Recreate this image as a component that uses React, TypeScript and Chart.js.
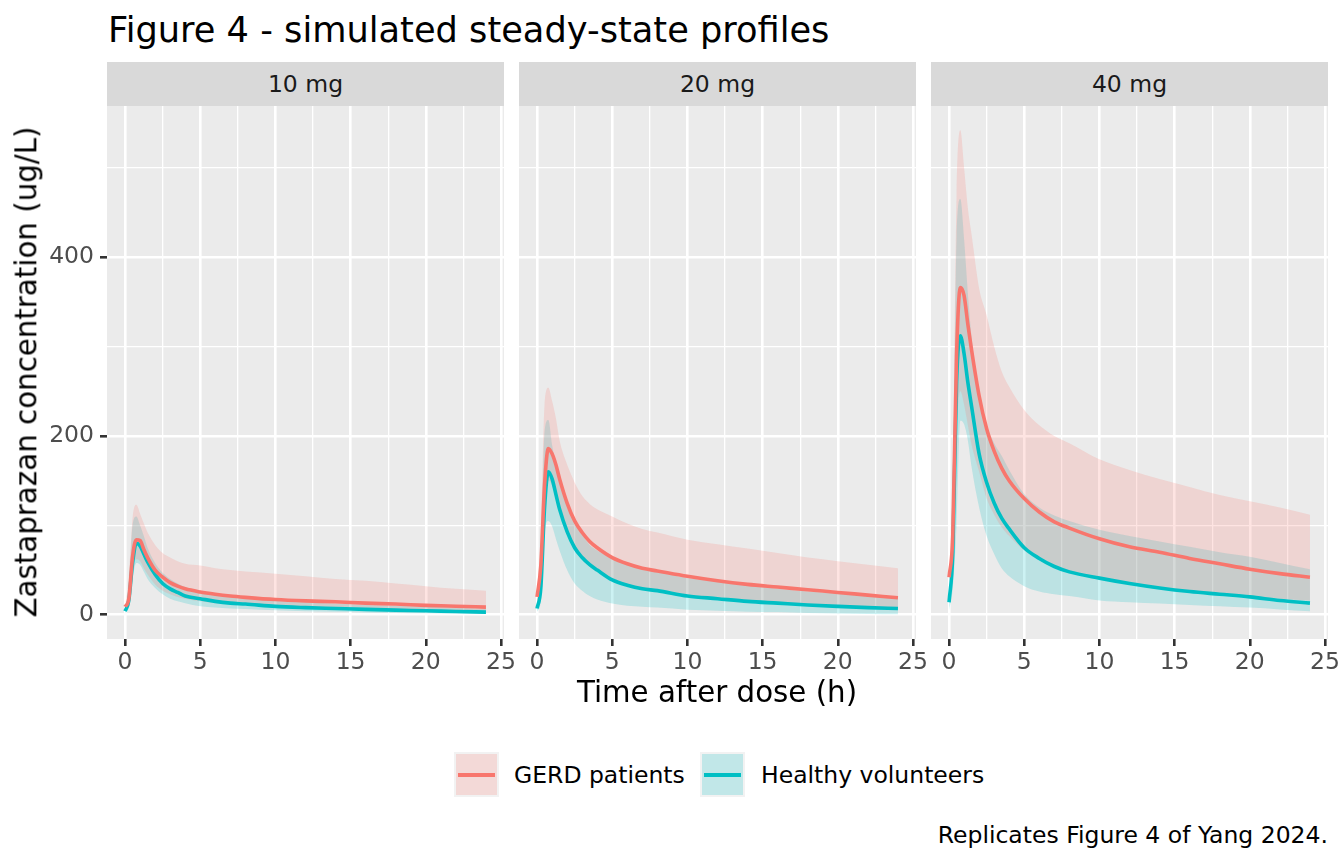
import React, { useEffect, useRef } from "react"
import { Chart, registerables } from "chart.js"

Chart.register(...registerables)

// time grid (h)
const times = [0, 0.25, 0.5, 0.75, 1, 1.25, 1.5, 2, 2.5, 3, 3.5, 4, 5, 6, 7, 8, 10, 12, 14, 16, 18, 20, 22, 24]

const doses = ["10 mg", "20 mg", "40 mg"]
const groups = ["GERD patients", "Healthy volunteers"]

// 10 mg
const gerd10Median = [9, 18, 65, 84, 83, 73, 64, 50, 42, 36, 32, 29, 25.5, 23, 21, 19.5, 17, 15.5, 14.5, 13, 12, 10.5, 9.5, 8.6]
const gerd10Low = [4, 10, 50, 62, 60, 52, 45, 34, 27, 23, 20, 18, 15, 13, 12, 11, 9, 8, 7, 6.5, 6, 5, 4.5, 4]
const gerd10High = [9, 40, 108, 123, 113, 102, 92, 78, 69, 64, 60, 57, 55, 52, 50, 48.5, 46, 43, 40, 38, 35, 32, 29, 27]
const hv10Median = [4, 16, 58, 80, 77, 68, 59, 45, 35, 29, 25, 21, 18, 15, 13, 12, 9.4, 8, 7, 6, 5.2, 4.5, 3.7, 3]
const hv10Low = [2, 8, 40, 58, 56, 48, 40, 30, 23, 18, 15, 13, 9.4, 8, 7, 6.5, 5, 4, 3.3, 2.6, 2, 1.6, 1.3, 1]
const hv10High = [4, 30, 100, 110, 100, 88, 75, 58, 47, 40, 35, 31, 27, 23, 20, 19, 16, 14, 12.5, 11, 10, 9, 7.8, 6.7]

// 20 mg
const gerd20Median = [20, 55, 145, 186, 180, 168, 152, 125, 105, 92, 82, 75, 64, 57, 52, 49, 43, 38, 34, 31, 28, 25, 22, 19]
const gerd20Low = [7, 30, 110, 150, 145, 130, 115, 92, 74, 62, 54, 48, 39, 33, 30, 27, 22, 19, 16, 14, 12, 10, 9, 7.5]
const gerd20High = [20, 90, 235, 254, 239, 220, 195, 168, 148, 133, 124, 118, 110, 102, 96, 92, 84, 79, 74, 69, 64, 60, 56, 52]
const hv20Median = [7, 30, 120, 160, 152, 135, 118, 93, 75, 64, 56, 50, 39, 33, 29, 27, 21, 18, 15, 13, 11, 9.4, 8, 7]
const hv20Low = [3, 15, 90, 105, 99, 85, 72, 50, 35, 27, 21, 17, 12.5, 10, 9, 8, 5.7, 4.5, 3.5, 3, 2, 1.5, 1, 0.5]
const hv20High = [7, 60, 205, 218, 190, 170, 152, 125, 105, 90, 78, 72, 63, 56, 52, 48, 41, 37, 33, 29, 26, 24, 21, 19]

// 40 mg
const gerd40Median = [42, 90, 290, 366, 357, 325, 296, 245, 208, 183, 164, 150, 130, 115, 104, 97, 85, 76, 70, 63, 57, 51, 46, 42]
const gerd40Low = [42, 60, 200, 250, 235, 212, 190, 160, 130, 112, 98, 88, 72, 62, 55, 49, 41, 36, 31, 27, 24, 21, 18, 16]
const gerd40High = [42, 150, 470, 542, 500, 455, 425, 365, 335, 300, 272, 255, 229, 212, 200, 192, 174, 162, 152, 143, 134, 127, 120, 112]
const hv40Median = [14, 70, 260, 312, 292, 260, 233, 180, 148, 125, 108, 96, 75, 63, 54, 48, 41, 35, 30, 26, 23, 20, 16, 13]
const hv40Low = [5, 30, 100, 217, 213, 195, 165, 120, 88, 68, 52, 43, 32, 26, 23, 21, 16, 14, 12.5, 11, 9.5, 8, 6, 4]
const hv40High = [14, 120, 422, 465, 420, 360, 310, 245, 212, 192, 178, 162, 135, 120, 111, 105, 95, 88, 82, 76, 70, 65, 58, 51]

const panels = [
  { gerd: [gerd10Low, gerd10Median, gerd10High], hv: [hv10Low, hv10Median, hv10High] },
  { gerd: [gerd20Low, gerd20Median, gerd20High], hv: [hv20Low, hv20Median, hv20High] },
  { gerd: [gerd40Low, gerd40Median, gerd40High], hv: [hv40Low, hv40Median, hv40High] },
]

const xMajor = [0, 5, 10, 15, 20, 25]
const xMinor = [2.5, 7.5, 12.5, 17.5, 22.5]
const yMajor = [0, 200, 400]
const yMinor = [100, 300, 500]

const RED = "#F8766D"
const TEAL = "#00BFC4"
const RED_FILL = "rgba(248, 118, 109, 0.2)"
const TEAL_FILL = "rgba(0, 191, 196, 0.2)"
const FONT = "'DejaVu Sans', sans-serif"

const PANEL_LEFT = [107, 519, 931]
const PANEL_W = 397
const PANEL_TOP = 106
const PANEL_H = 533
const Y_AXIS_W = 107
const X_AXIS_H = 50
const RIGHT_PAD = 20
const TOP_PAD = 24

const bgPlugin = {
  id: "panelBg",
  beforeDraw(chart: any) {
    const { ctx, chartArea } = chart
    ctx.save()
    ctx.fillStyle = "#EBEBEB"
    ctx.fillRect(chartArea.left, chartArea.top, chartArea.right - chartArea.left, chartArea.bottom - chartArea.top)
    ctx.restore()
  },
}

const pts = (arr: number[]) => times.map((t, i) => ({ x: t, y: arr[i] }))

function Panel({ index }: { index: number }) {
  const chartRef = useRef<HTMLCanvasElement>(null)
  const chartInstance = useRef<Chart | null>(null)
  const first = index === 0

  useEffect(() => {
    if (!chartRef.current) return
    if (chartInstance.current) chartInstance.current.destroy()
    const ctx = chartRef.current.getContext("2d")
    if (!ctx) return

    const p = panels[index]
    const band = (arr: number[], fill: any, color: string) => ({
      data: pts(arr),
      borderWidth: 0,
      borderColor: "transparent",
      backgroundColor: color,
      pointRadius: 0,
      fill,
      cubicInterpolationMode: "monotone" as const,
    })
    const line = (arr: number[], color: string) => ({
      data: pts(arr),
      borderWidth: 3.6,
      borderColor: color,
      pointRadius: 0,
      fill: false,
      cubicInterpolationMode: "monotone" as const,
    })

    const isMajorX = (v: number) => xMajor.includes(v)
    const isMajorY = (v: number) => yMajor.includes(v)

    chartInstance.current = new Chart(ctx, {
      type: "line",
      data: {
        datasets: [
          band(p.gerd[0], false, RED_FILL),
          band(p.gerd[2], "-1", RED_FILL),
          band(p.hv[0], false, TEAL_FILL),
          band(p.hv[2], "-1", TEAL_FILL),
          line(p.gerd[1], RED),
          line(p.hv[1], TEAL),
        ],
      },
      options: {
        animation: false,
        responsive: false,
        maintainAspectRatio: false,
        layout: { padding: { left: 0, right: RIGHT_PAD, top: TOP_PAD, bottom: 0 } },
        plugins: {
          legend: { display: false },
          tooltip: { enabled: false },
          filler: { drawTime: "beforeDatasetsDraw" },
        },
        scales: {
          x: {
            type: "linear",
            min: -1.2,
            max: 25.2,
            afterBuildTicks: (scale: any) => {
              scale.ticks = [...xMajor, ...xMinor].sort((a, b) => a - b).map((v) => ({ value: v }))
            },
            afterFit: (scale: any) => {
              scale.height = X_AXIS_H
            },
            border: { display: false },
            grid: {
              color: "#FFFFFF",
              lineWidth: (c: any) => (isMajorX(c.tick?.value) ? 2.6 : 1.3),
              tickColor: (c: any) => (isMajorX(c.tick?.value) ? "#333333" : "rgba(0,0,0,0)"),
              tickWidth: 2.6,
              tickLength: 7,
            },
            ticks: {
              autoSkip: false,
              maxRotation: 0,
              padding: 3,
              color: "#4D4D4D",
              font: { family: FONT, size: 23.5 },
              callback: (v: any) => (isMajorX(Number(v)) ? String(v) : ""),
            },
          },
          y: {
            type: "linear",
            min: -27.1,
            max: 569.1,
            afterBuildTicks: (scale: any) => {
              scale.ticks = [...yMajor, ...yMinor].sort((a, b) => a - b).map((v) => ({ value: v }))
            },
            afterFit: (scale: any) => {
              scale.width = first ? Y_AXIS_W : 0
            },
            border: { display: false },
            grid: {
              color: "#FFFFFF",
              lineWidth: (c: any) => (isMajorY(c.tick?.value) ? 2.6 : 1.3),
              tickColor: (c: any) => (first && isMajorY(c.tick?.value) ? "#333333" : "rgba(0,0,0,0)"),
              tickWidth: 2.6,
              tickLength: first ? 7 : 0,
              drawTicks: first,
            },
            ticks: {
              display: first,
              autoSkip: false,
              padding: 6,
              color: "#4D4D4D",
              font: { family: FONT, size: 23.5 },
              callback: (v: any) => (isMajorY(Number(v)) ? String(v) : ""),
            },
          },
        },
      },
      plugins: [bgPlugin],
    })

    return () => {
      if (chartInstance.current) {
        chartInstance.current.destroy()
        chartInstance.current = null
      }
    }
  }, [index])

  const left = first ? 0 : PANEL_LEFT[index]
  const width = (first ? Y_AXIS_W : 0) + PANEL_W + RIGHT_PAD
  const height = TOP_PAD + PANEL_H + X_AXIS_H

  return (
    <>
      <div
        style={{
          position: "absolute",
          left: PANEL_LEFT[index],
          top: 62,
          width: PANEL_W,
          height: PANEL_TOP - 62,
          background: "#D9D9D9",
          color: "#1A1A1A",
          fontFamily: FONT,
          fontSize: 23.5,
          lineHeight: `${PANEL_TOP - 62}px`,
          textAlign: "center",
        }}
      >
        {doses[index]}
      </div>
      <div style={{ position: "absolute", left, top: PANEL_TOP - TOP_PAD, width, height }}>
        <canvas ref={chartRef} width={width} height={height} style={{ display: "block" }} />
      </div>
    </>
  )
}

function LegendKey({ left, fill, color }: { left: number; fill: string; color: string }) {
  return (
    <div style={{ position: "absolute", left, top: 752, width: 45, height: 45, background: "#F2F2F2" }}>
      <div style={{ position: "absolute", left: 2, top: 2, right: 2, bottom: 2, background: fill }} />
      <div style={{ position: "absolute", left: 4, right: 4, top: 21, height: 4, background: color }} />
    </div>
  )
}

const textStyle = (size: number, top: number): React.CSSProperties => ({
  position: "absolute",
  top,
  fontFamily: FONT,
  fontSize: size,
  lineHeight: `${size}px`,
  whiteSpace: "nowrap",
  color: "#000000",
})

export default function App() {
  return (
    <div style={{ position: "fixed", left: 0, top: 0, width: 1344, height: 864, background: "#FFFFFF", overflow: "hidden" }}>
      <div style={{ ...textStyle(35.2, 12), left: 108 }}>Figure 4 - simulated steady-state profiles</div>
      {doses.map((d, i) => (
        <Panel key={d} index={i} />
      ))}
      <div
        style={{
          ...textStyle(29.3, 0),
          left: 27,
          top: 372,
          transform: "translate(-50%, -50%) rotate(-90deg)",
        }}
      >
        Zastaprazan concentration (ug/L)
      </div>
      <div style={{ ...textStyle(29.3, 678), left: 717, transform: "translateX(-50%)" }}>Time after dose (h)</div>
      <LegendKey left={454} fill={RED_FILL} color={RED} />
      <div style={{ ...textStyle(23.5, 764), left: 514 }}>{groups[0]}</div>
      <LegendKey left={700} fill={TEAL_FILL} color={TEAL} />
      <div style={{ ...textStyle(23.5, 764), left: 761 }}>{groups[1]}</div>
      <div style={{ ...textStyle(23.5, 824), right: 16 }}>Replicates Figure 4 of Yang 2024.</div>
    </div>
  )
}
